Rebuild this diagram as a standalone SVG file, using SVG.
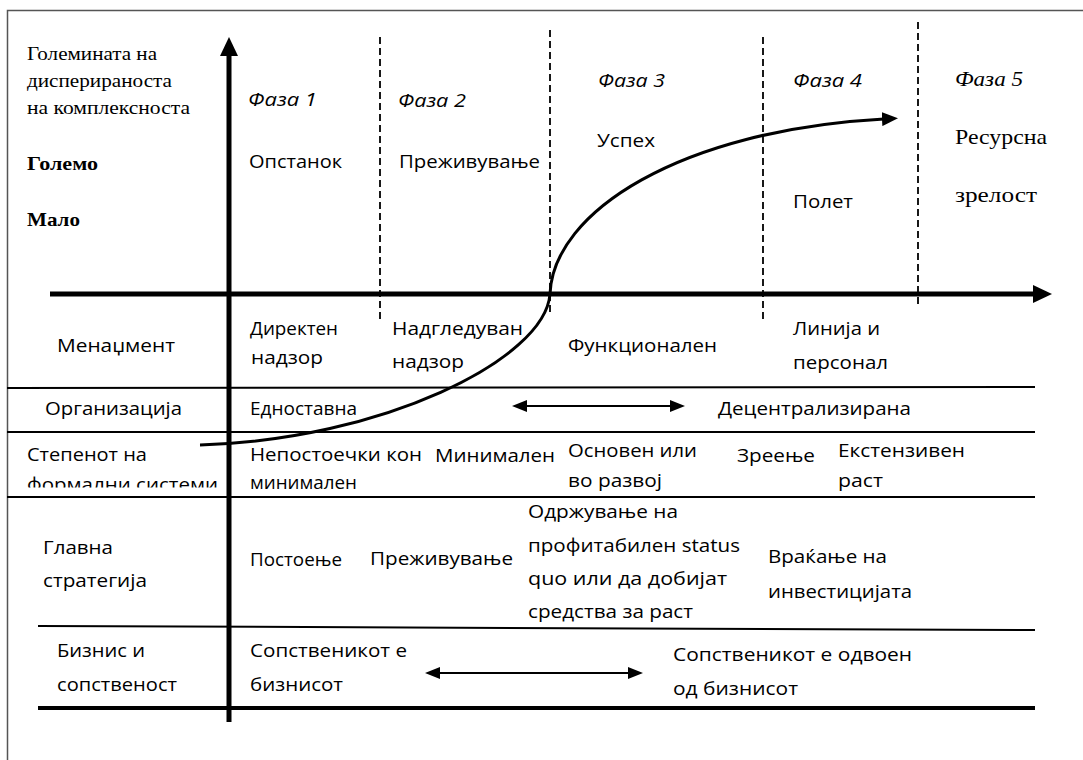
<svg xmlns="http://www.w3.org/2000/svg" width="1083" height="760" viewBox="0 0 1083 760">
<style>
.s{font-family:"Open Sans","Noto Sans",sans-serif;font-size:19px;fill:#000}
.i{font-style:italic}
.r{font-family:"Liberation Serif","Times New Roman",serif;font-size:19px;fill:#000}
.rb{font-weight:bold}
.r5{font-size:22px}
.sep{stroke:#000;stroke-width:2;fill:none}
.dash{stroke:#000;stroke-width:1.8;stroke-dasharray:7 4;fill:none}
.ax{stroke:#000;stroke-width:5;fill:none}
</style>
<defs>
<marker id="ah" markerUnits="userSpaceOnUse" markerWidth="16" markerHeight="14" refX="2" refY="7" orient="auto">
<path d="M0,0 L16,7 L0,14 Z" fill="#000"/>
</marker>
<marker id="dh" markerUnits="userSpaceOnUse" markerWidth="15" markerHeight="12" refX="1" refY="6" orient="auto-start-reverse">
<path d="M0,0 L15,6 L0,12 Z" fill="#000"/>
</marker>
<clipPath id="clipF"><rect x="0" y="470" width="225" height="17.5"/></clipPath>
</defs>
<rect x="7.5" y="10.5" width="1100" height="800" fill="#fff" stroke="#555" stroke-width="1.5"/>

<g id="grid">
<line class="sep" x1="7" y1="388" x2="1035" y2="387"/>
<line class="sep" x1="7" y1="432" x2="1035" y2="432"/>
<line class="sep" x1="7" y1="497" x2="1035" y2="497"/>
<line class="sep" x1="38" y1="626" x2="1035" y2="630"/>
<line x1="38" y1="708" x2="1035" y2="708" stroke="#000" stroke-width="4"/>
<line class="dash" x1="380" y1="37" x2="380" y2="322"/>
<line class="dash" x1="550" y1="30" x2="550" y2="315"/>
<line class="dash" x1="763" y1="37" x2="763" y2="320"/>
<line class="dash" x1="918" y1="22" x2="918" y2="305"/>
</g>

<g id="axes">
<line class="ax" x1="229" y1="722" x2="229" y2="54"/>
<polygon points="229,37 220,56 238,56" fill="#000"/>
<line class="ax" x1="50" y1="294" x2="1035" y2="294"/>
<polygon points="1052,294 1033,285 1033,303" fill="#000"/>
</g>

<g id="connectors">
<path d="M200,445 C380,440 545,360 550,294 C553,212 680,130 884,119" fill="none" stroke="#000" stroke-width="3" marker-end="url(#ah)"/>
<line x1="526" y1="406" x2="671" y2="406" stroke="#000" stroke-width="2" marker-start="url(#dh)" marker-end="url(#dh)"/>
<line x1="439" y1="673" x2="629" y2="673" stroke="#000" stroke-width="2" marker-start="url(#dh)" marker-end="url(#dh)"/>
</g>

<g id="yaxis-label">
<text class="r" x="27" y="60" textLength="130" lengthAdjust="spacingAndGlyphs">Големината на</text>
<text class="r" x="27" y="87" textLength="145" lengthAdjust="spacingAndGlyphs">дисперираноста</text>
<text class="r" x="27" y="114" textLength="163" lengthAdjust="spacingAndGlyphs">на комплексноста</text>
<text class="r rb" x="27" y="170" textLength="71" lengthAdjust="spacingAndGlyphs">Големо</text>
<text class="r rb" x="27" y="226" textLength="53" lengthAdjust="spacingAndGlyphs">Мало</text>
</g>

<g id="phase1">
<text class="s i" x="248" y="106" textLength="69" lengthAdjust="spacingAndGlyphs">Фаза 1</text>
<text class="s" x="249" y="168" textLength="93" lengthAdjust="spacingAndGlyphs">Опстанок</text>
</g>
<g id="phase2">
<text class="s i" x="398" y="107" textLength="68" lengthAdjust="spacingAndGlyphs">Фаза 2</text>
<text class="s" x="399" y="168" textLength="141" lengthAdjust="spacingAndGlyphs">Преживување</text>
</g>
<g id="phase3">
<text class="s i" x="598" y="87" textLength="67" lengthAdjust="spacingAndGlyphs">Фаза 3</text>
<text class="s" x="597" y="147" textLength="58" lengthAdjust="spacingAndGlyphs">Успех</text>
</g>
<g id="phase4">
<text class="s i" x="793" y="87" textLength="69" lengthAdjust="spacingAndGlyphs">Фаза 4</text>
<text class="s" x="793" y="208" textLength="60" lengthAdjust="spacingAndGlyphs">Полет</text>
</g>
<g id="phase5">
<text class="r r5 i" x="955" y="86" textLength="68" lengthAdjust="spacingAndGlyphs">Фаза 5</text>
<text class="r r5" x="955" y="144" textLength="92" lengthAdjust="spacingAndGlyphs">Ресурсна</text>
<text class="r r5" x="955" y="202" textLength="82" lengthAdjust="spacingAndGlyphs">зрелост</text>
</g>

<g id="row-management">
<text class="s" x="57" y="352" textLength="118" lengthAdjust="spacingAndGlyphs">Менаџмент</text>
<text class="s" x="250" y="335" textLength="88" lengthAdjust="spacingAndGlyphs">Директен</text>
<text class="s" x="251" y="364" textLength="72" lengthAdjust="spacingAndGlyphs">надзор</text>
<text class="s" x="392" y="335" textLength="131" lengthAdjust="spacingAndGlyphs">Надгледуван</text>
<text class="s" x="392" y="368" textLength="72" lengthAdjust="spacingAndGlyphs">надзор</text>
<text class="s" x="568" y="352" textLength="149" lengthAdjust="spacingAndGlyphs">Функционален</text>
<text class="s" x="793" y="335" textLength="87" lengthAdjust="spacingAndGlyphs">Линија и</text>
<text class="s" x="793" y="369" textLength="95" lengthAdjust="spacingAndGlyphs">персонал</text>
</g>

<g id="row-organization">
<text class="s" x="45" y="415" textLength="137" lengthAdjust="spacingAndGlyphs">Организација</text>
<text class="s" x="250" y="415" textLength="107" lengthAdjust="spacingAndGlyphs">Едноставна</text>
<text class="s" x="718" y="415" textLength="193" lengthAdjust="spacingAndGlyphs">Децентрализирана</text>
</g>

<g id="row-formal">
<text class="s" x="27" y="461" textLength="120" lengthAdjust="spacingAndGlyphs">Степенот на</text>
<text class="s" x="27" y="491" textLength="191" lengthAdjust="spacingAndGlyphs" clip-path="url(#clipF)">формални системи</text>
<text class="s" x="250" y="461" textLength="172" lengthAdjust="spacingAndGlyphs">Непостоечки кон</text>
<text class="s" x="250" y="489" textLength="107" lengthAdjust="spacingAndGlyphs">минимален</text>
<text class="s" x="435" y="462" textLength="120" lengthAdjust="spacingAndGlyphs">Минимален</text>
<text class="s" x="568" y="457" textLength="129" lengthAdjust="spacingAndGlyphs">Основен или</text>
<text class="s" x="568" y="487" textLength="94" lengthAdjust="spacingAndGlyphs">во развој</text>
<text class="s" x="737" y="462" textLength="78" lengthAdjust="spacingAndGlyphs">Зреење</text>
<text class="s" x="838" y="457" textLength="127" lengthAdjust="spacingAndGlyphs">Екстензивен</text>
<text class="s" x="838" y="487" textLength="45" lengthAdjust="spacingAndGlyphs">раст</text>
</g>

<g id="row-strategy">
<text class="s" x="43" y="554" textLength="70" lengthAdjust="spacingAndGlyphs">Главна</text>
<text class="s" x="43" y="587" textLength="104" lengthAdjust="spacingAndGlyphs">стратегија</text>
<text class="s" x="250" y="566" textLength="92" lengthAdjust="spacingAndGlyphs">Постоење</text>
<text class="s" x="370" y="565" textLength="143" lengthAdjust="spacingAndGlyphs">Преживување</text>
<text class="s" x="528" y="518" textLength="150" lengthAdjust="spacingAndGlyphs">Одржување на</text>
<text class="s" x="528" y="552" textLength="212" lengthAdjust="spacingAndGlyphs">профитабилен status</text>
<text class="s" x="528" y="585" textLength="199" lengthAdjust="spacingAndGlyphs">quo или да добијат</text>
<text class="s" x="528" y="618" textLength="165" lengthAdjust="spacingAndGlyphs">средства за раст</text>
<text class="s" x="768" y="563" textLength="119" lengthAdjust="spacingAndGlyphs">Враќање на</text>
<text class="s" x="768" y="598" textLength="144" lengthAdjust="spacingAndGlyphs">инвестицијата</text>
</g>

<g id="row-business">
<text class="s" x="57" y="657" textLength="88" lengthAdjust="spacingAndGlyphs">Бизнис и</text>
<text class="s" x="57" y="691" textLength="120" lengthAdjust="spacingAndGlyphs">сопственост</text>
<text class="s" x="250" y="657" textLength="157" lengthAdjust="spacingAndGlyphs">Сопственикот е</text>
<text class="s" x="250" y="691" textLength="93" lengthAdjust="spacingAndGlyphs">бизнисот</text>
<text class="s" x="673" y="661" textLength="239" lengthAdjust="spacingAndGlyphs">Сопственикот е одвоен</text>
<text class="s" x="673" y="695" textLength="125" lengthAdjust="spacingAndGlyphs">од бизнисот</text>
</g>
</svg>
